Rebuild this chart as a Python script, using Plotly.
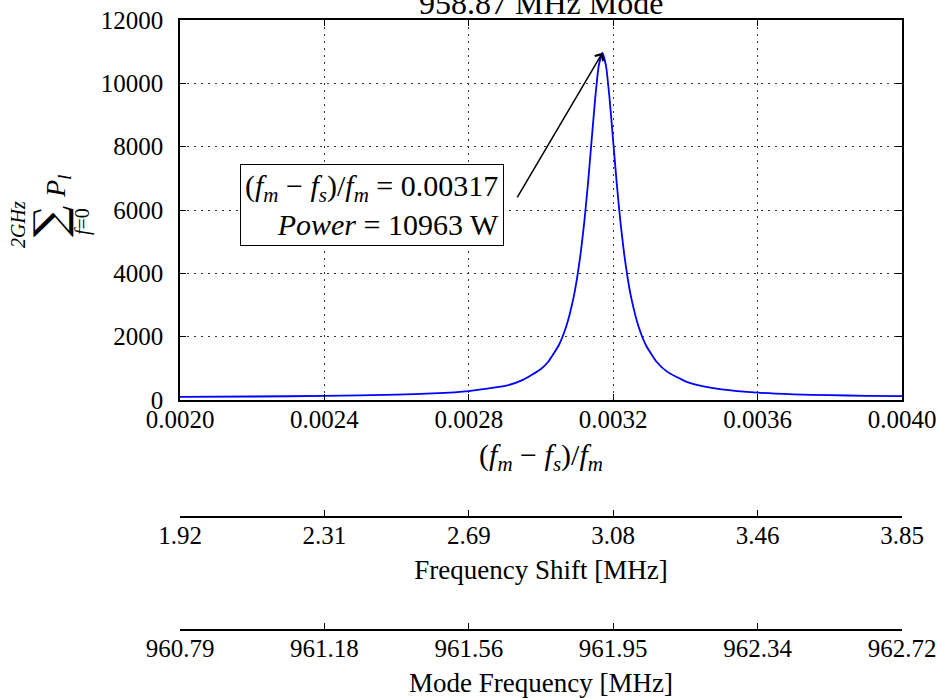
import plotly.graph_objects as go

# ---- data ----
ratio = [0.0020, 0.0022, 0.0024, 0.0026, 0.0027, 0.0028, 0.0029, 0.00295, 0.0030,
         0.00302, 0.00305, 0.00307, 0.00309, 0.00310, 0.00311, 0.00312, 0.00313,
         0.00314, 0.00315, 0.00316, 0.00317, 0.00318, 0.00319, 0.00320, 0.00321,
         0.00322, 0.00323, 0.00324, 0.00325, 0.00327, 0.00329, 0.00332, 0.00335,
         0.0034, 0.00345, 0.0035, 0.0036, 0.0037, 0.0038, 0.0039, 0.0040]
power = [101, 110, 128, 167, 207, 283, 443, 635, 979,
         1208, 1745, 2326, 3225, 3854, 4645, 5630, 6819,
         8166, 9511, 10560, 10963, 10560, 9511, 8166, 6819,
         5630, 4645, 3854, 3225, 2326, 1745, 1208, 888,
         591, 430, 334, 231, 179, 151, 133, 121]

x_ticks = [0.0020, 0.0024, 0.0028, 0.0032, 0.0036, 0.0040]
x_tick_labels = ["0.0020", "0.0024", "0.0028", "0.0032", "0.0036", "0.0040"]
shift_labels = ["1.92", "2.31", "2.69", "3.08", "3.46", "3.85"]
mode_labels = ["960.79", "961.18", "961.56", "961.95", "962.34", "962.72"]
y_ticks = [0, 2000, 4000, 6000, 8000, 10000, 12000]

peak_ratio = 0.00317
peak_power = 10963
title_text = "958.87 MHz Mode"

FONT = "Liberation Serif"
FS = 25
TFS = 27

fig = go.Figure()
fig.add_trace(go.Scatter(x=ratio, y=power, mode="lines",
                         line=dict(color="#0000ff", width=1.8, shape="spline", smoothing=0.5),
                         hoverinfo="skip", showlegend=False))
for ax in ("x2", "x3"):
    fig.add_trace(go.Scatter(x=[x_ticks[0], x_ticks[-1]], y=[0, 0], mode="lines",
                             line=dict(width=0), xaxis=ax, yaxis="y",
                             hoverinfo="skip", showlegend=False))

# plot region: y from 20 px to 630 px
ydom_low = (630 - 400) / 610
shift_pos = (630 - 517) / 610

common_x = dict(range=[x_ticks[0], x_ticks[-1]], tickvals=x_ticks,
                tickfont=dict(family=FONT, size=FS, color="black"),
                showline=True, linecolor="black", linewidth=1.5,
                ticks="inside", ticklen=6, tickcolor="black", tickwidth=1,
                zeroline=False, automargin=False, ticklabelstandoff=-4)

GRID = dict(showgrid=True, gridcolor="#333", griddash="2px,5px", gridwidth=1)

SP = "\u2005"
ratio_math = f"(<i>f<sub>m</sub></i>{SP}−{SP}<i>f<sub>s</sub></i>)/<i>f<sub>m</sub></i>"

fig.update_layout(
    width=939, height=698,
    margin=dict(l=180, r=37, t=20, b=68),
    paper_bgcolor="white", plot_bgcolor="white",
    font=dict(family=FONT, size=FS, color="black"),
    showlegend=False,
    xaxis=dict(**common_x, ticktext=x_tick_labels, mirror="ticks", **GRID,
               anchor="y",
               title=dict(text=ratio_math, font=dict(family=FONT, size=30), standoff=12)),
    yaxis=dict(domain=[ydom_low, 1], range=[0, 12000], tickvals=y_ticks, tickformat="d",
               tickfont=dict(family=FONT, size=FS, color="black"),
               showline=True, linecolor="black", linewidth=1.5, mirror="ticks",
               ticks="inside", ticklen=6, tickcolor="black", **GRID,
               zeroline=False, ticklabelstandoff=10, automargin=False),
    xaxis2=dict(**common_x, ticktext=shift_labels, overlaying="x", anchor="free",
                position=shift_pos, showgrid=False,
                title=dict(text="Frequency Shift [MHz]", font=dict(family=FONT, size=TFS), standoff=11)),
    xaxis3=dict(**common_x, ticktext=mode_labels, overlaying="x", anchor="free",
                position=0, showgrid=False,
                title=dict(text="Mode Frequency [MHz]", font=dict(family=FONT, size=TFS), standoff=13)),
)

def px_x(p):
    return (p - 180) / 722

def px_y(p):
    return (630 - p) / 610

C = dict(xref="paper", yref="paper", xanchor="center", yanchor="middle", showarrow=False)

anns = [
    # title
    dict(text=title_text, x=0.5, y=1, xref="paper", yref="paper", xanchor="center",
         yanchor="bottom", yshift=-3, showarrow=False, font=dict(family=FONT, size=32)),
    # y-axis label pieces (rotated)
    dict(text="∑", x=px_x(49), y=px_y(222), textangle=-90,
         font=dict(family="DejaVu Serif", size=44), **C),
    dict(text="<i>2GHz</i>", x=px_x(18), y=px_y(225), textangle=-90,
         font=dict(family=FONT, size=20), **C),
    dict(text="<i>f</i>=0", x=px_x(82), y=px_y(222), textangle=-90,
         font=dict(family=FONT, size=20), **C),
    dict(text="<i>P<sub>l</sub></i>", x=px_x(58), y=px_y(186), textangle=-90,
         font=dict(family=FONT, size=28), **C),
    # text box
    dict(text=f"{ratio_math} = {peak_ratio:.5f}<br><i>Power</i> = {peak_power} W",
         x=px_x(372), y=px_y(205), align="right", bgcolor="white", bordercolor="black",
         borderwidth=1, borderpad=4, font=dict(family=FONT, size=30), **C),
    # arrow
    dict(text="", x=peak_ratio, y=peak_power, xref="x", yref="y", showarrow=True,
         ax=-86, ay=146, arrowhead=4, arrowsize=1.3, arrowwidth=1.5, arrowcolor="black",
         standoff=0),
]
fig.update_layout(annotations=anns)

fig.write_html("out.html")
